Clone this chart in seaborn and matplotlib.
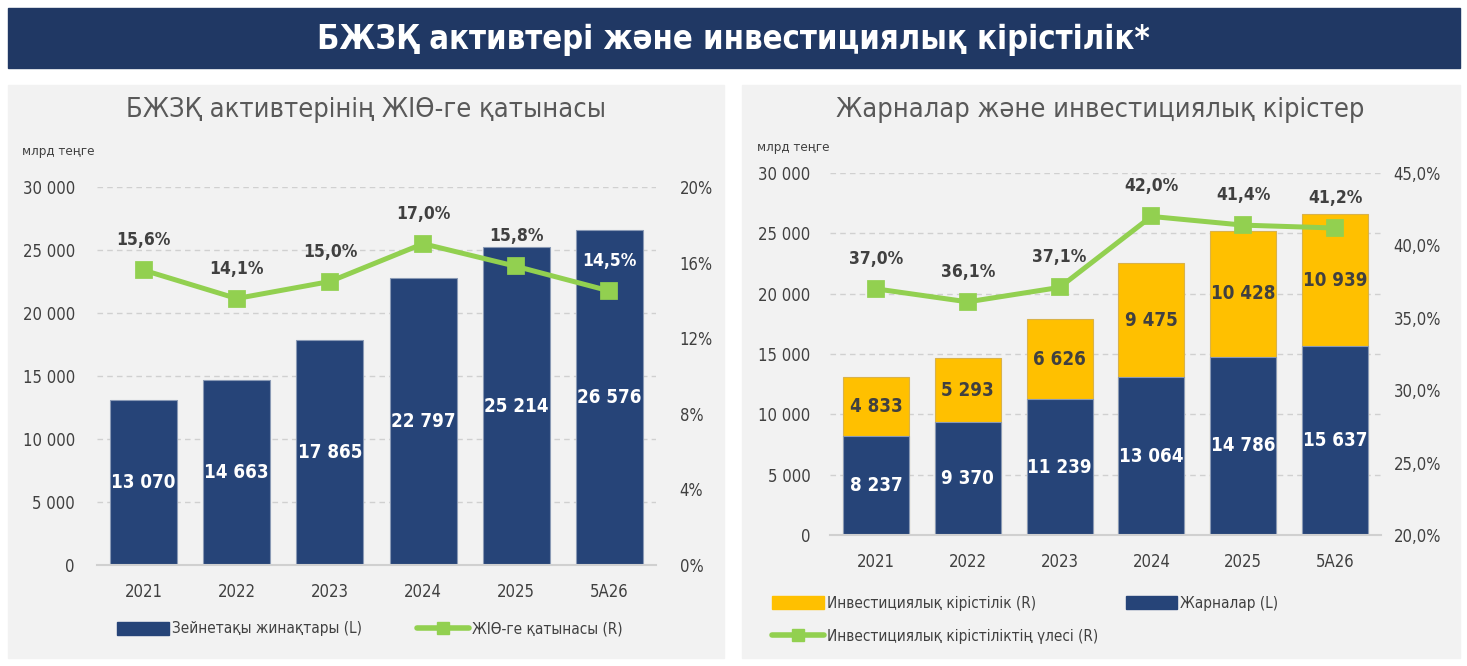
import matplotlib
matplotlib.use("Agg")
import numpy as np
import pandas as pd
import seaborn as sns
from matplotlib import pyplot as plt
from matplotlib import font_manager
from matplotlib.patches import Rectangle, Patch
from matplotlib.lines import Line2D

sns.set_theme(style="white")
plt.rcParams['font.family'] = ['DejaVu Sans']
plt.rcParams['font.stretch'] = 'condensed'

# is there a condensed face? otherwise shrink text a bit
_path = font_manager.findfont(font_manager.FontProperties(family='DejaVu Sans', stretch='condensed'))
K = 1.0 if 'Condensed' in _path else 0.86

# data
years = ["2021", "2022", "2023", "2024", "2025", "5A26"]
assets = [13070, 14663, 17865, 22797, 25214, 26576]
gdp_share = [15.6, 14.1, 15.0, 17.0, 15.8, 14.5]
contrib = [8237, 9370, 11239, 13064, 14786, 15637]
inv_income = [4833, 5293, 6626, 9475, 10428, 10939]
inv_share = [37.0, 36.1, 37.1, 42.0, 41.4, 41.2]

NAVY = "#264478"
YELLOW = "#FFC000"
GREEN = "#92D050"
GREY_TXT = "#595959"
DARK_TXT = "#404040"
PANEL = "#F2F2F2"
EDGE = "#8A9AB5"

W, H = 1467, 666
fig = plt.figure(figsize=(W / 100, H / 100), dpi=100)
fig.patch.set_facecolor("white")


def fx(px):
    return px / W


def fy(py):
    return 1 - py / H


def fmt_num(v):
    return f"{v:,.0f}".replace(",", " ")


# background blocks
fig.patches.append(Rectangle((fx(8), fy(68)), fx(1452), 60 / H, color="#203864",
                             transform=fig.transFigure, zorder=-5))
fig.patches.append(Rectangle((fx(8), fy(658)), fx(716), 573 / H, color=PANEL,
                             transform=fig.transFigure, zorder=-5))
fig.patches.append(Rectangle((fx(742), fy(658)), fx(718), 573 / H, color=PANEL,
                             transform=fig.transFigure, zorder=-5))

fig.text(0.5, fy(39), "БЖЗҚ активтері және инвестициялық кірістілік*", color="white",
         fontsize=23.5 * K, fontweight="bold", ha="center", va="center")
fig.text(fx(366), fy(110), "БЖЗҚ активтерінің ЖІӨ-ге қатынасы", color=GREY_TXT,
         fontsize=19.5 * K, ha="center", va="center")
fig.text(fx(1100), fy(110), "Жарналар және инвестициялық кірістер", color=GREY_TXT,
         fontsize=19.5 * K, ha="center", va="center")
fig.text(fx(22), fy(152), "млрд теңге", color=DARK_TXT, fontsize=9.5 * K, va="center")
fig.text(fx(757), fy(148), "млрд теңге", color=DARK_TXT, fontsize=9.5 * K, va="center")

TICK_FS = 12 * K
BAR_FS = 13.5 * K
PCT_FS = 12.5 * K


def style_axes(ax, ax2, ylim, ylim2, step, step2, pct_fmt, padL, padR):
    ax.set_facecolor("none")
    ax.set_ylim(*ylim)
    ax.set_yticks(np.arange(ylim[0], ylim[1] + 1, step))
    ax.set_yticklabels([fmt_num(t) for t in ax.get_yticks()])
    ax.yaxis.grid(True, linestyle=(0, (4, 3)), color="#D0D0D0", linewidth=1)
    ax.set_axisbelow(True)
    for s in ["top", "right", "left"]:
        ax.spines[s].set_visible(False)
    ax.spines["bottom"].set_color("#D0D0D0")
    ax.spines["bottom"].set_linewidth(1.5)
    ax.tick_params(axis="both", length=0, labelsize=TICK_FS, colors=DARK_TXT)
    ax.tick_params(axis="y", pad=padL)
    ax.tick_params(axis="x", pad=13)
    ax.set_xlabel("")
    ax.set_ylabel("")
    ax2.set_ylim(*ylim2)
    ticks2 = np.arange(ylim2[0], ylim2[1] + 0.01, step2)
    ax2.set_yticks(ticks2)
    ax2.set_yticklabels([pct_fmt(t) for t in ticks2])
    ax2.tick_params(axis="y", length=0, labelsize=TICK_FS, colors=DARK_TXT, pad=padR)
    ax2.set_ylabel("")
    ax2.grid(False)
    for s in ax2.spines.values():
        s.set_visible(False)


def pct_labels(ax, ax2, shares, tops):
    # label sits 30 px above the point; white if it lands inside the bar
    for i, v in enumerate(shares):
        px = ax2.transData.transform((i, v))
        lab_y = ax.transData.inverted().transform((px[0], px[1] + 30))[1]
        col = "white" if lab_y < tops[i] else DARK_TXT
        ax2.annotate(f"{v:.1f}%".replace(".", ","), (i, v), xytext=(0, 30),
                     textcoords="offset pixels", ha="center", va="center",
                     fontsize=PCT_FS, fontweight="bold", color=col)


# ---- left chart
axL = fig.add_axes([fx(97), fy(565), fx(656 - 97), (565 - 187) / H])
dfL = pd.DataFrame({"year": years, "assets": assets, "share": gdp_share})
sns.barplot(data=dfL, x="year", y="assets", color=NAVY, saturation=1, width=0.72,
            edgecolor=EDGE, linewidth=0.8, ax=axL)
axL2 = axL.twinx()
sns.pointplot(data=dfL, x="year", y="share", color=GREEN, markers="s", markersize=10.5,
              linewidth=3.6, ax=axL2)
style_axes(axL, axL2, (0, 30000), (0, 20), 5000, 4, lambda t: f"{t:.0f}%", 16, 17)
axL.set_xlim(-0.5, len(years) - 0.5)
for i, v in enumerate(assets):
    axL.text(i, v / 2, fmt_num(v), color="white", fontsize=BAR_FS, fontweight="bold",
             ha="center", va="center")
pct_labels(axL, axL2, gdp_share, assets)

# ---- right chart
axR = fig.add_axes([fx(830), fy(535), fx(1381 - 830), (535 - 173) / H])
totals = [c + i for c, i in zip(contrib, inv_income)]
dfR = pd.DataFrame({"year": years, "contrib": contrib, "total": totals, "share": inv_share})
sns.barplot(data=dfR, x="year", y="total", color=YELLOW, saturation=1, width=0.72,
            edgecolor="#D9B24A", linewidth=0.8, ax=axR)
sns.barplot(data=dfR, x="year", y="contrib", color=NAVY, saturation=1, width=0.72,
            edgecolor=EDGE, linewidth=0.8, ax=axR)
axR2 = axR.twinx()
sns.pointplot(data=dfR, x="year", y="share", color=GREEN, markers="s", markersize=10.5,
              linewidth=3.6, ax=axR2)
style_axes(axR, axR2, (0, 30000), (20, 45), 5000, 5,
           lambda t: f"{t:.1f}%".replace(".", ","), 14, 9)
axR.set_xlim(-0.5, len(years) - 0.5)
for i, (c, inv) in enumerate(zip(contrib, inv_income)):
    axR.text(i, c / 2, fmt_num(c), color="white", fontsize=BAR_FS, fontweight="bold",
             ha="center", va="center")
    axR.text(i, c + inv / 2, fmt_num(inv), color=DARK_TXT, fontsize=BAR_FS,
             fontweight="bold", ha="center", va="center")
pct_labels(axR, axR2, inv_share, totals)

# legends
line_h = Line2D([], [], color=GREEN, linewidth=4, marker="s", markersize=9)
fig.legend(handles=[Patch(color=NAVY), line_h],
           labels=["Зейнетақы жинақтары (L)", "ЖІӨ-ге қатынасы (R)"],
           loc="center", bbox_to_anchor=(fx(370), fy(629)), ncol=2, frameon=False,
           fontsize=11 * K, labelcolor=DARK_TXT, handlelength=3.4, handleheight=0.9,
           handletextpad=0.2, columnspacing=3.6)
fig.legend(handles=[Patch(color=YELLOW), line_h, Patch(color=NAVY)],
           labels=["Инвестициялық кірістілік (R)", "Инвестициялық кірістіліктің үлесі (R)",
                   "Жарналар (L)"],
           loc="upper left", bbox_to_anchor=(fx(758), fy(582)), ncol=2, frameon=False,
           fontsize=11 * K, labelcolor=DARK_TXT, handlelength=3.4, handleheight=0.9,
           handletextpad=0.2, columnspacing=1.8, labelspacing=1.2)

fig.savefig("out.png", dpi=100)
